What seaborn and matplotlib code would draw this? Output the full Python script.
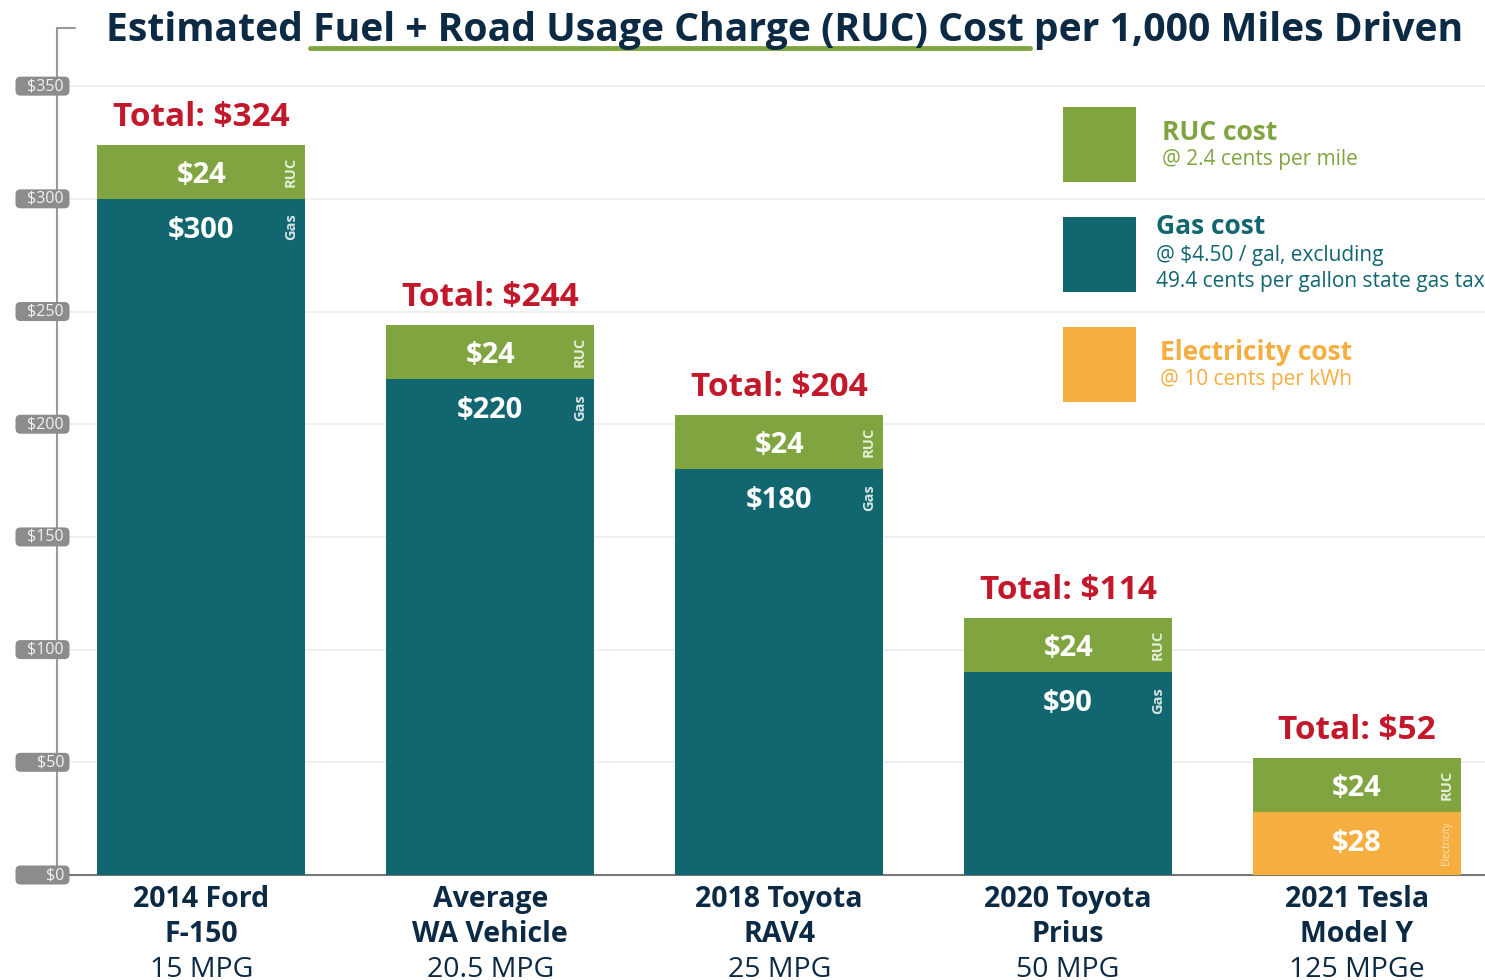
import numpy as np
import pandas as pd
import matplotlib
matplotlib.use("Agg")
import matplotlib.pyplot as plt
import seaborn as sns
from matplotlib.patches import FancyBboxPatch, Rectangle
from matplotlib.lines import Line2D
from matplotlib.transforms import IdentityTransform

# data
vehicles = ["2014 Ford\nF-150", "Average\nWA Vehicle", "2018 Toyota\nRAV4", "2020 Toyota\nPrius", "2021 Tesla\nModel Y"]
efficiency = ["15 MPG", "20.5 MPG", "25 MPG", "50 MPG", "125 MPGe"]
fuel_cost = [300, 220, 180, 90, 28]
ruc_cost = [24, 24, 24, 24, 24]
fuel_kind = ["Gas", "Gas", "Gas", "Gas", "Electricity"]
y_ticks = [0, 50, 100, 150, 200, 250, 300, 350]

GREEN = "#80a540"
TEAL = "#12666f"
ORANGE = "#f6ae41"
RED = "#c2182c"
NAVY = "#0c2a44"

sns.set_style("white")
plt.rcParams["font.family"] = ["Open Sans", "DejaVu Sans"]

df = pd.DataFrame({"vehicle": vehicles, "fuel": fuel_cost, "ruc": ruc_cost, "kind": fuel_kind})
df["total"] = df["fuel"] + df["ruc"]

W, H = 1485, 980
fig = plt.figure(figsize=(W / 100, H / 100), dpi=100)
ax = fig.add_axes([57 / W, 105 / H, 1428 / W, 847 / H])

for v in y_ticks[1:]:
    ax.axhline(v, color="#eeeeee", lw=1.2, zorder=0)

sns.barplot(data=df, x="vehicle", y="total", color=GREEN, width=0.72, saturation=1,
            ax=ax, zorder=2)
pal = {v: (ORANGE if k == "Electricity" else TEAL) for v, k in zip(vehicles, fuel_kind)}
sns.barplot(data=df, x="vehicle", y="fuel", hue="vehicle", palette=pal, width=0.72,
            saturation=1, legend=False, ax=ax, zorder=3)
for p in ax.patches:
    p.set_edgecolor("none")

ax.set_xlim(-0.5, 4.443)
ax.set_ylim(0, 375.8)
ax.set_xlabel("")
ax.set_ylabel("")

for i, row in df.iterrows():
    right = i + 0.36 - 0.05
    ax.text(i, row["total"] + 12.3, f"Total: ${row['total']}", ha="center", va="center",
            color=RED, fontsize=24, fontweight="bold")
    ax.text(i, row["fuel"] + row["ruc"] / 2 - 1.5, f"${row['ruc']}", ha="center", va="center",
            color="white", fontsize=21, fontweight="bold", zorder=5)
    ax.text(right, row["fuel"] + row["ruc"] / 2, "RUC", ha="center", va="center", rotation=90,
            color="#e6eed8", fontsize=10.5, fontweight="bold", zorder=5)
    ax.text(i, row["fuel"] - 14, f"${row['fuel']}", ha="center", va="center",
            color="white", fontsize=21, fontweight="bold", zorder=5)
    if row["kind"] == "Gas":
        ax.text(right, row["fuel"] - 12.5, "Gas", ha="center", va="center", rotation=90,
                color="#d5e3e4", fontsize=10.5, fontweight="bold", zorder=5)
    else:
        ax.text(right, row["fuel"] / 2, "Electricity", ha="center", va="center", rotation=90,
                color="#fbe3bd", fontsize=7, zorder=5)

# x labels
ax.set_xticks(range(len(vehicles)))
ax.set_xticklabels(vehicles, fontsize=20.5, fontweight="bold", color=NAVY, linespacing=1.3)
ax.tick_params(axis="x", length=0, pad=7)
for i, e in enumerate(efficiency):
    ax.annotate(e, xy=(i, 0), xycoords=("data", "axes fraction"), xytext=(0, -95),
                textcoords="offset pixels", ha="center", va="center", fontsize=20.5, color=NAVY)
ax.set_xticks(np.arange(0.5, 4.5, 1), minor=True)
ax.tick_params(axis="x", which="minor", direction="in", length=15, color="#eeeeee", width=1.2)

# y axis with rounded labels
ax.set_yticks(y_ticks)
ax.set_yticklabels([])
ax.tick_params(axis="y", length=0)
for s in ["top", "right"]:
    ax.spines[s].set_visible(False)
ax.spines["left"].set_color("#9a9a9a")
ax.spines["left"].set_linewidth(1.5)
ax.spines["bottom"].set_color("#777777")
ax.spines["bottom"].set_linewidth(1.5)
ax.plot([0, 18 / 1428], [1, 1], transform=ax.transAxes, color="#9a9a9a", lw=1.5, clip_on=False)

fig.canvas.draw()
for v in y_ticks:
    _, yp = ax.transData.transform((0, v))
    box = FancyBboxPatch((17, yp - 8), 51, 16, boxstyle="round,pad=1.5,rounding_size=5",
                         transform=IdentityTransform(), fc="#8c8c8c", ec="none", zorder=10)
    fig.patches.append(box)
    fig.text(64 / W, yp / H, f"${v}", ha="right", va="center", fontsize=11.5,
             color="#f2f2f2", zorder=11)

# title
fig.text(785 / W, 1 - 30 / H, "Estimated Fuel + Road Usage Charge (RUC) Cost per 1,000 Miles Driven",
         ha="center", va="center", fontsize=28.2, fontweight="bold", color=NAVY)
fig.add_artist(Line2D([310 / W, 1030 / W], [1 - 48 / H] * 2, color=GREEN, lw=3.5))

# legend
legend_items = [
    (GREEN, "RUC cost", ["@ 2.4 cents per mile"], 107, 1162, 25),
    (TEAL, "Gas cost", ["@ $4.50 / gal, excluding", "49.4 cents per gallon state gas tax"], 217, 1156, 10),
    (ORANGE, "Electricity cost", ["@ 10 cents per kWh"], 327, 1160, 25),
]
for col, head, subs, top, tx, dy in legend_items:
    fig.patches.append(Rectangle((1063 / W, 1 - (top + 75) / H), 73 / W, 75 / H,
                                 transform=fig.transFigure, fc=col, ec="none"))
    fig.text(tx / W, 1 - (top + dy) / H, head, ha="left", va="center", fontsize=19,
             fontweight="bold", color=col)
    for k, sub in enumerate(subs):
        fig.text(tx / W, 1 - (top + dy + 28 + 26 * k) / H, sub, ha="left", va="center",
                 fontsize=15, color=col)

fig.savefig("out.png", dpi=100)
